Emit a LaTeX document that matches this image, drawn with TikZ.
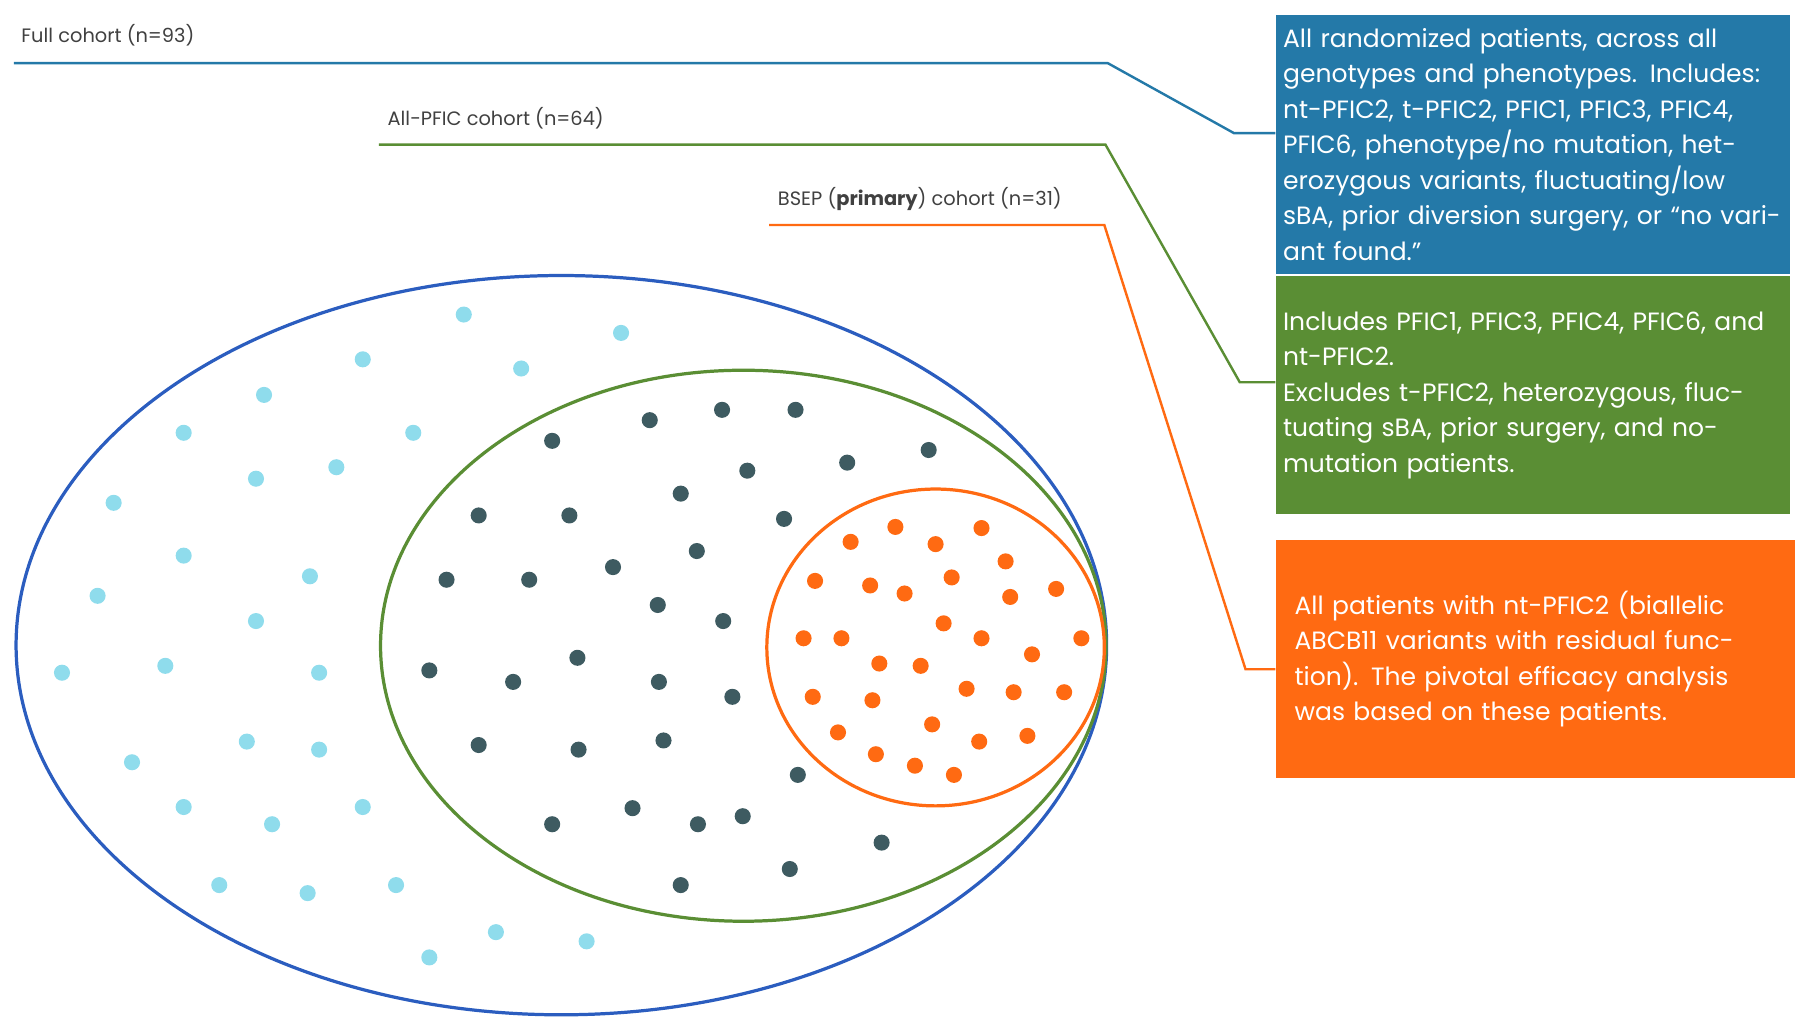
\documentclass[tikz,border=0pt]{standalone}
\usepackage{fontspec}
\setmainfont{Poppins}
\usetikzlibrary{positioning}
\definecolor{fullblue}{HTML}{2B5DBF}
\definecolor{boxblue}{HTML}{2479A8}
\definecolor{pficgreen}{HTML}{5A8E34}
\definecolor{bsepor}{HTML}{FF6A12}
\definecolor{lightdot}{HTML}{8FDCEC}
\definecolor{darkdot}{HTML}{3E5B61}
\definecolor{labgrey}{HTML}{404040}
\tikzset{
  cohortlabel/.style={anchor=south west, inner sep=0pt, text=labgrey, font=\fontsize{4.8}{6}\selectfont},
  infobox/.style={anchor=north west, minimum width=4.47cm, minimum height=2.07cm, inner xsep=0.06cm,
                  text width=4.35cm, align=left, text=white, font=\fontsize{6.2}{8.8}\selectfont},
  pt/.style={circle, inner sep=0pt, minimum size=0.14cm}
}
\begin{document}
\begin{tikzpicture}[x=0.01cm, y=-0.01cm]

\useasboundingbox (0,0) rectangle (1568,896);

% ellipses
\draw[fullblue, line width=0.8pt] (489,562) ellipse [x radius=475, y radius=322];
\draw[pficgreen, line width=0.8pt] (647.5,562.5) ellipse [x radius=316, y radius=240];
\draw[bsepor, line width=0.8pt] (815,564) ellipse [x radius=147, y radius=138];

% dots
\foreach \x/\y in {404/274,541/290,316/313,454/321,230/344,160/377,360/377,293/407,223/417,99/438,
  160/484,270/502,85/519,223/541,54/586,144/580,278/586,215/646,278/653,115/664,160/703,237/718,
  316/703,191/771,268/778,345/771,432/812,511/820,374/834}
  \node[pt, fill=lightdot] at (\x,\y) {};
\foreach \x/\y in {566/366,629/357,693/357,481/384,809/392,738/403,651/410,593/430,417/449,496/449,
  683/452,607/480,534/494,389/505,461/505,573/527,630/541,503/573,374/584,447/594,574/594,638/607,
  417/649,504/653,578/645,695/675,551/704,481/718,608/718,647/711,768/734,688/757,593/771}
  \node[pt, fill=darkdot] at (\x,\y) {};
\foreach \x/\y in {741/472,780/459,815/474,855/460,876/489,710/506,758/510,788/517,829/503,880/520,
  920/513,822/543,700/556,733/556,855/556,942/556,766/578,802/580,899/570,842/600,883/603,927/603,
  708/607,760/610,812/631,730/638,853/646,895/641,763/657,797/667,831/675}
  \node[pt, fill=bsepor] at (\x,\y) {};

% boxes
\node[infobox, fill=boxblue] (fullbox) at (1111,12) {All randomized patients, across all genotypes and phenotypes. Includes: nt-PFIC2, t-PFIC2, PFIC1, PFIC3, PFIC4, PFIC6, phenotype/no mutation, heterozygous variants, fluctuating/low sBA, prior diversion surgery, or “no variant found.”};
\node[infobox, fill=pficgreen] (pficbox) at (1111,240) {Includes PFIC1, PFIC3, PFIC4, PFIC6, and nt-PFIC2.\\Excludes t-PFIC2, heterozygous, fluctuating sBA, prior surgery, and no-mutation patients.};
\node[infobox, fill=bsepor, inner xsep=0.16cm, text width=4.2cm] (bsepbox) at (1111,470) {All patients with nt-PFIC2 (biallelic ABCB11 variants with residual function). The pivotal efficacy analysis was based on these patients.};

% leader lines
\coordinate (fullstart) at (12,55);
\coordinate (pficstart) at (330,126);
\coordinate (bsepstart) at (670,196);
\node[cohortlabel] (fulllab) at (18,41) {Full cohort (n=93)};
\node[cohortlabel] (pficlab) at (337,113) {All-PFIC cohort (n=64)};
\node[cohortlabel] (bseplab) at (677,184) {BSEP (\textbf{primary}) cohort (n=31)};
\draw[boxblue, line width=0.6pt] (fullstart) -- (965,55) -- (1075,116) -- (fullbox.west |- 0,116);
\draw[pficgreen, line width=0.6pt] (pficstart) -- (963,126) -- (1080,333) -- (pficbox.west |- 0,333);
\draw[bsepor, line width=0.6pt] (bsepstart) -- (962,196) -- (1085,583) -- (bsepbox.west |- 0,583);

\end{tikzpicture}
\end{document}
